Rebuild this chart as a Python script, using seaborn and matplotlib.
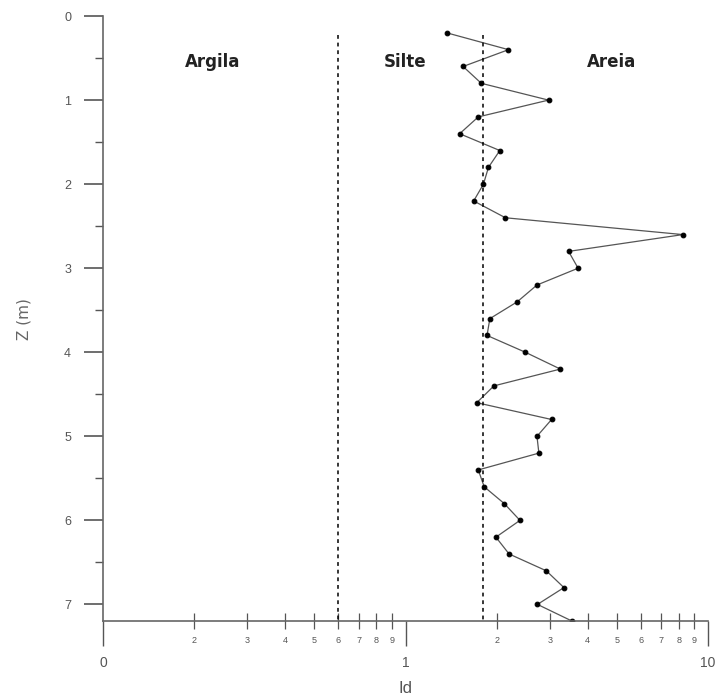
import matplotlib
matplotlib.use("Agg")
import matplotlib.pyplot as plt
import seaborn as sns
import pandas as pd
import numpy as np
from matplotlib.ticker import FixedLocator, FixedFormatter

sns.set_style("white")
plt.rcParams['font.family'] = ['Liberation Sans', 'DejaVu Sans']

depth = [0.2, 0.4, 0.6, 0.8, 1.0, 1.2, 1.4, 1.6, 1.8, 2.0, 2.2, 2.4,
         2.6, 2.8, 3.0, 3.2, 3.4, 3.6, 3.8, 4.0, 4.2, 4.4, 4.6, 4.8,
         5.0, 5.2, 5.4, 5.6, 5.8, 6.0, 6.2, 6.4, 6.6, 6.8, 7.0, 7.2]
id_values = [1.37, 2.19, 1.55, 1.78, 2.97, 1.74, 1.51, 2.05, 1.88, 1.81, 1.68, 2.14,
             8.26, 3.46, 3.72, 2.72, 2.34, 1.90, 1.86, 2.49, 3.25, 1.96, 1.72, 3.04,
             2.72, 2.76, 1.74, 1.82, 2.12, 2.39, 1.99, 2.20, 2.92, 3.34, 2.73, 3.56]
limits = [0.6, 1.8]
zone_labels = ["Argila", "Silte", "Areia"]
zone_x = [0.23, 1.0, 4.8]

df = pd.DataFrame({"Id": id_values, "Z": depth})

fig = plt.figure(figsize=(7.19, 6.98), dpi=100)
ax = fig.add_axes([0.1433, 0.110, 0.8414, 0.867])

sns.lineplot(data=df, x="Id", y="Z", sort=False, estimator=None, ax=ax,
             color="#555555", linewidth=0.9, marker="o", markersize=3.4,
             markerfacecolor="black", markeredgecolor="black")

for lim in limits:
    ax.vlines(lim, 0.22, 7.2, color="black", linestyle=(0, (2.5, 2.5)), linewidth=1.1)

ax.set_xscale("log")
ax.set_xlim(0.1, 10)
ax.set_ylim(7.2, 0)

# x ticks
ax.xaxis.set_major_locator(FixedLocator([0.1, 1, 10]))
ax.xaxis.set_major_formatter(FixedFormatter(["0", "1", "10"]))
minor = [m * d for d in (0.1, 1) for m in range(2, 10)]
ax.xaxis.set_minor_locator(FixedLocator(minor))
ax.xaxis.set_minor_formatter(FixedFormatter([str(m) for m in range(2, 10)] * 2))
ax.tick_params(axis="x", which="major", direction="out", length=18, width=1.0,
               color="#555555", labelsize=10, labelcolor="#555555", pad=7, bottom=True)
ax.tick_params(axis="x", which="minor", direction="inout", length=12, width=0.9,
               color="#555555", labelsize=6.5, labelcolor="#555555", pad=5, bottom=True)

# y ticks
ax.yaxis.set_major_locator(FixedLocator([0, 1, 2, 3, 4, 5, 6, 7]))
ax.yaxis.set_minor_locator(FixedLocator([0.5, 1.5, 2.5, 3.5, 4.5, 5.5, 6.5]))
ax.tick_params(axis="y", which="major", direction="out", length=14, width=1.2,
               color="#555555", labelsize=9, labelcolor="#555555", pad=9, left=True)
ax.tick_params(axis="y", which="minor", direction="out", length=6, width=1.0,
               color="#555555", left=True)

for s in ["top", "right"]:
    ax.spines[s].set_visible(False)
for s in ["left", "bottom"]:
    ax.spines[s].set_color("#666666")
    ax.spines[s].set_linewidth(1.2)

ax.set_xlabel("Id", fontsize=12, color="#555555", labelpad=8)
ax.set_ylabel("Z (m)", fontsize=11, color="#666666", family=["DejaVu Sans"])
ax.yaxis.set_label_coords(-0.119, 0.5)

for lbl, xx in zip(zone_labels, zone_x):
    ax.text(xx, 0.55, lbl, fontsize=12, fontweight="bold", ha="center", va="center",
            color="#222222", family=["DejaVu Sans"])

fig.savefig("out.png", dpi=100)
